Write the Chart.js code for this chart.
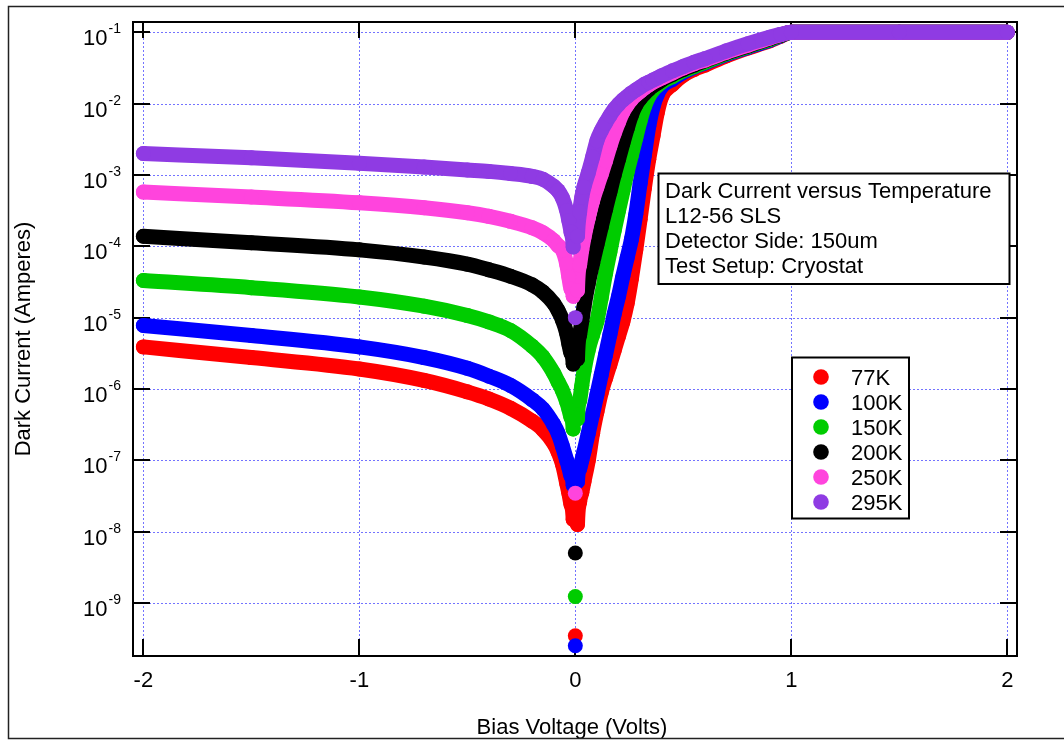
<!DOCTYPE html>
<html>
<head>
<meta charset="utf-8">
<title>Dark Current versus Temperature</title>
<script src="https://cdn.jsdelivr.net/npm/chart.js@4.4.1/dist/chart.umd.min.js"></script>
<style>
  html, body { margin: 0; padding: 0; background: #fff; }
  canvas { display: block; }
</style>
</head>
<body>
<canvas id="ivChart" width="1064" height="740"></canvas>
<script>
// bias sweep (volts)
var biasVolts = [-2.0, -1.5, -1.0, -0.7, -0.5, -0.4, -0.3, -0.2, -0.15, -0.1, -0.08, -0.06, -0.04, -0.03, -0.02, -0.01, 0,
    0.01, 0.02, 0.03, 0.04, 0.06, 0.08, 0.10, 0.12, 0.14, 0.16, 0.18, 0.20, 0.22, 0.24, 0.26, 0.28, 0.30,
    0.32, 0.34, 0.36, 0.38, 0.40, 0.45, 0.50, 0.55, 0.60, 0.70, 0.80, 0.90, 0.95, 1.0, 1.5, 2.0];

// log10 of dark current in amperes, one value per bias point
var log77K = [-5.41, -5.56, -5.72, -5.88, -6.04, -6.14, -6.27, -6.45, -6.57, -6.76, -6.88, -7.05, -7.32, -7.46, -7.62, -7.83, -9.46,
    -7.90, -7.58, -7.45, -7.30, -7.00, -6.62, -6.32, -6.05, -5.85, -5.66, -5.46, -5.26, -5.06, -4.80, -4.45, -4.05, -3.62,
    -3.18, -2.78, -2.45, -2.12, -1.90, -1.73, -1.60, -1.52, -1.46, -1.33, -1.22, -1.12, -1.055, -1.0, -1.0, -1.0];
var log100K = [-5.11, -5.25, -5.41, -5.56, -5.71, -5.82, -5.95, -6.15, -6.28, -6.50, -6.62, -6.80, -7.00, -7.10, -7.22, -7.35, -9.60,
    -7.30, -7.12, -7.00, -6.88, -6.62, -6.35, -6.08, -5.80, -5.52, -5.24, -4.95, -4.70, -4.42, -4.16, -3.90, -3.55, -3.12,
    -2.72, -2.32, -2.04, -1.87, -1.76, -1.66, -1.56, -1.49, -1.43, -1.31, -1.21, -1.11, -1.05, -1.0, -1.0, -1.0];
var log150K = [-4.48, -4.58, -4.71, -4.84, -4.97, -5.06, -5.18, -5.40, -5.55, -5.78, -5.90, -6.02, -6.18, -6.28, -6.40, -6.56, -8.91,
    -6.42, -6.16, -5.95, -5.75, -5.45, -5.24, -5.05, -4.72, -4.38, -4.08, -3.78, -3.50, -3.23, -2.96, -2.72, -2.48, -2.24,
    -2.04, -1.90, -1.81, -1.75, -1.70, -1.62, -1.54, -1.48, -1.42, -1.30, -1.20, -1.10, -1.045, -1.0, -1.0, -1.0];
var log200K = [-3.86, -3.95, -4.05, -4.15, -4.25, -4.33, -4.42, -4.54, -4.64, -4.80, -4.90, -5.03, -5.22, -5.37, -5.50, -5.65, -8.30,
    -5.58, -5.24, -5.05, -4.85, -4.52, -4.24, -3.98, -3.73, -3.48, -3.24, -3.00, -2.78, -2.56, -2.35, -2.16, -2.02, -1.93,
    -1.86, -1.80, -1.75, -1.71, -1.67, -1.59, -1.52, -1.46, -1.40, -1.29, -1.19, -1.09, -1.04, -1.0, -1.0, -1.0];
var log250K = [-3.24, -3.31, -3.39, -3.46, -3.53, -3.58, -3.65, -3.74, -3.81, -3.92, -3.99, -4.05, -4.25, -4.43, -4.60, -4.70, -7.46,
    -4.62, -4.26, -4.05, -3.88, -3.60, -3.36, -3.17, -2.99, -2.80, -2.60, -2.42, -2.26, -2.12, -2.02, -1.94, -1.88, -1.83,
    -1.78, -1.74, -1.70, -1.67, -1.64, -1.57, -1.50, -1.44, -1.39, -1.28, -1.18, -1.08, -1.035, -1.0, -1.0, -1.0];
var log295K = [-2.70, -2.76, -2.835, -2.89, -2.93, -2.95, -2.98, -3.02, -3.06, -3.16, -3.22, -3.32, -3.50, -3.64, -3.80, -4.01, -5.00,
    -3.86, -3.52, -3.31, -3.17, -2.97, -2.75, -2.52, -2.38, -2.27, -2.17, -2.08, -2.01, -1.95, -1.90, -1.85, -1.81, -1.77,
    -1.73, -1.70, -1.67, -1.64, -1.61, -1.54, -1.48, -1.42, -1.37, -1.26, -1.16, -1.07, -1.03, -1.0, -1.0, -1.0];

var seriesLabels = ['77K', '100K', '150K', '200K', '250K', '295K'];
var seriesColors = ['#ff0000', '#0000ff', '#00cc00', '#000000', '#ff44dd', '#8f3be3'];

var xTickValues = [-2, -1, 0, 1, 2];
var yTickExponents = [-9, -8, -7, -6, -5, -4, -3, -2, -1];
var noteLines = ['Dark Current versus Temperature', 'L12-56 SLS', 'Detector Side: 150um', 'Test Setup: Cryostat'];

var FONT = '"Liberation Sans", Arial, Helvetica, sans-serif';

function text(ctx, str, x, y, size, align) {
    ctx.font = size + 'px ' + FONT;
    ctx.textAlign = align || 'left';
    ctx.textBaseline = 'alphabetic';
    ctx.fillStyle = '#000';
    ctx.fillText(str, x, y);
}

function seg(ctx, x1, y1, x2, y2) {
    ctx.beginPath();
    ctx.moveTo(x1, y1);
    ctx.lineTo(x2, y2);
    ctx.stroke();
}

// grid, ticks, frame and labels around the plot area
var plotFrame = {
    id: 'plotFrame',
    beforeDatasetsDraw: function (chart) {
        var ctx = chart.ctx, a = chart.chartArea;
        var xs = chart.scales.x, ys = chart.scales.y;
        ctx.save();
        ctx.strokeStyle = '#7373ff';
        ctx.lineWidth = 1;
        ctx.setLineDash([2, 2]);
        xTickValues.forEach(function (v) {
            var px = Math.round(xs.getPixelForValue(v)) + 0.5;
            seg(ctx, px, a.top, px, a.bottom);
        });
        yTickExponents.forEach(function (d) {
            var py = Math.round(ys.getPixelForValue(Math.pow(10, d))) + 0.5;
            seg(ctx, a.left, py, a.right, py);
        });
        ctx.setLineDash([]);
        ctx.strokeStyle = '#000';
        ctx.lineWidth = 2;
        xTickValues.forEach(function (v) {
            var px = Math.round(xs.getPixelForValue(v));
            seg(ctx, px, a.bottom, px, a.bottom - 17);
            seg(ctx, px, a.top, px, a.top + 16);
        });
        yTickExponents.forEach(function (d) {
            var py = Math.round(ys.getPixelForValue(Math.pow(10, d)));
            seg(ctx, a.left, py, a.left + 17, py);
            seg(ctx, a.right, py, a.right - 17, py);
        });
        ctx.restore();
    },
    afterDatasetsDraw: function (chart) {
        var ctx = chart.ctx, a = chart.chartArea;
        var xs = chart.scales.x, ys = chart.scales.y;
        ctx.save();
        ctx.strokeStyle = '#000';
        ctx.lineWidth = 2;
        ctx.strokeRect(a.left, a.top, a.right - a.left, a.bottom - a.top);

        xTickValues.forEach(function (v) {
            text(ctx, String(v), xs.getPixelForValue(v), 687, 22, 'center');
        });
        yTickExponents.forEach(function (d) {
            var py = ys.getPixelForValue(Math.pow(10, d));
            text(ctx, '10', 107.5, py + 13, 22, 'right');
            text(ctx, String(d), 108.5, py + 1, 14, 'left');
        });

        text(ctx, 'Bias Voltage (Volts)', 572, 734, 22, 'center');
        ctx.save();
        ctx.translate(29.5, (a.top + a.bottom) / 2);
        ctx.rotate(-Math.PI / 2);
        text(ctx, 'Dark Current (Amperes)', 0, 0, 22, 'center');
        ctx.restore();

        // note box
        ctx.fillStyle = '#fff';
        ctx.fillRect(658.5, 173.5, 351, 110.5);
        ctx.strokeRect(658.5, 173.5, 351, 110.5);
        noteLines.forEach(function (line, i) {
            text(ctx, line, 665, 198 + i * 25, 22, 'left');
        });

        // legend box
        ctx.fillStyle = '#fff';
        ctx.fillRect(792, 357.5, 117, 161);
        ctx.strokeRect(792, 357.5, 117, 161);
        seriesLabels.forEach(function (lab, i) {
            var cy = 377 + i * 25;
            ctx.beginPath();
            ctx.arc(821, cy, 7.8, 0, Math.PI * 2);
            ctx.fillStyle = seriesColors[i];
            ctx.fill();
            text(ctx, lab, 851, cy + 7.5, 22, 'left');
        });

        // outer frame
        ctx.strokeStyle = '#222';
        ctx.lineWidth = 1.5;
        ctx.strokeRect(8.5, 6.5, 1070, 732);
        ctx.restore();
    }
};

var allLogs = [log77K, log100K, log150K, log200K, log250K, log295K];
var datasets = allLogs.map(function (logs, i) {
    return {
        label: seriesLabels[i],
        data: biasVolts.map(function (v, j) {
            return { x: v, y: Math.pow(10, logs[j]) };
        }),
        showLine: true,
        cubicInterpolationMode: 'monotone',
        borderColor: seriesColors[i],
        backgroundColor: seriesColors[i],
        borderWidth: 15,
        borderCapStyle: 'round',
        borderJoinStyle: 'round',
        pointRadius: 7.5,
        pointBorderWidth: 0,
        order: allLogs.length - 1 - i,
        segment: {
            // points near zero bias stand alone, no band to their neighbours
            borderColor: function (c) {
                return Math.abs(c.p1.y - c.p0.y) > 45 ? 'rgba(0,0,0,0)' : undefined;
            }
        }
    };
});

new Chart(document.getElementById('ivChart'), {
    type: 'scatter',
    data: { datasets: datasets },
    options: {
        responsive: false,
        animation: false,
        devicePixelRatio: 1,
        events: [],
        layout: { padding: { left: 133, top: 22, right: 47, bottom: 84 } },
        plugins: {
            legend: { display: false },
            tooltip: { enabled: false }
        },
        scales: {
            x: { type: 'linear', min: -2.048, max: 2.045, display: false },
            y: { type: 'logarithmic', min: Math.pow(10, -9.743), max: Math.pow(10, -0.856), display: false }
        }
    },
    plugins: [plotFrame]
});
</script>
</body>
</html>
